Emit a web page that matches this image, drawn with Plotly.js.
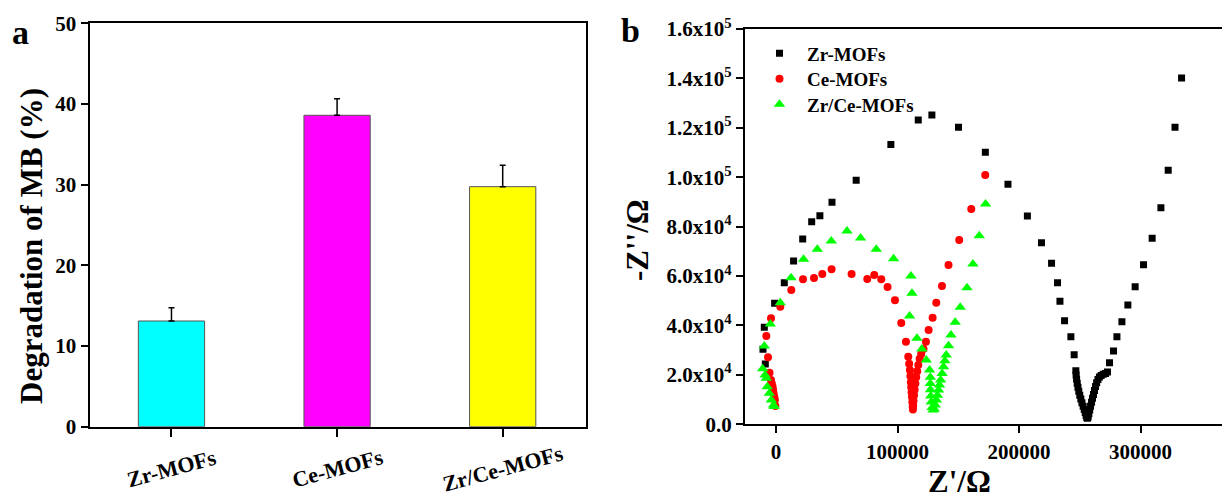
<!DOCTYPE html>
<html>
<head>
<meta charset="utf-8">
<script src="https://cdn.plot.ly/plotly-3.0.1.min.js"></script>
<style>
html,body{margin:0;padding:0;overflow:hidden;background:#fff;}
#chart{width:1270px;height:499px;}
</style>
</head>
<body>
<div id="chart"></div>
<script>
// ---- Panel a data ----
const categories = ["Zr-MOFs", "Ce-MOFs", "Zr/Ce-MOFs"];
const degradation = [13.1, 38.6, 29.75];
const degradationErr = [1.65, 2.05, 2.65];
const barColors = ["#00FFFF", "#FF00FF", "#FFFF00"];
const yTicksA = [0, 10, 20, 30, 40, 50];

// ---- Panel b data (Nyquist) ----
const zrX = [-10700,-8800,-9630,-1150,6830,14480,21970,29370,36120,46080,65990,94540,117080,128300,150200,172300,190900,206900,218500,226800,231700,233700,237500,242700,245400,246800,
  247000,247400,247900,248500,249200,250000,250900,251800,252800,253700,254500,255200,255800,256300,
  256900,257500,258200,258900,259700,260500,261300,262100,263000,263900,265000,266200,267600,269400,271200,272800,
  274500,277800,280600,284700,289600,295600,302500,309600,316800,322800,328400,333800];
const zrY = [30350,24400,39250,48970,57300,66090,75000,82000,84420,89840,98750,113300,123150,125170,120190,110080,97130,84300,73500,65160,57300,49780,41930,35450,28170,21690,
  20000,18300,16600,15000,13400,11800,10200,8700,7300,6000,4800,3700,2800,2400,
  3000,4300,5800,7300,8900,10500,12100,13700,15300,16800,18100,19100,19800,20300,20600,21200,
  24930,29660,35450,41520,48280,55690,64590,75270,87660,102790,120190,140150];

const ceX = [-4110,-7980,-6580,-5300,-4110,-3500,-2800,-2400,-1970,-1400,-900,-500,
  3540,12590,22220,31270,38100,45750,62200,75120,80880,86640,91830,97910,103100,106960,108860,
  109600,110200,110600,111000,111300,111600,111900,112200,112500,112700,112900,113200,113600,114100,114700,115400,116200,117100,118200,119500,
  121400,123400,125600,128900,131900,136600,142000,150800,160700,172200];
const ceY = [42900,35730,27110,20880,17930,16500,15220,13900,12540,11000,9830,7400,
  47600,54350,58680,59210,60830,62730,60830,58800,60420,58680,55570,50180,41000,33430,27360,
  24500,22000,19500,17000,15000,13000,11000,9000,7000,6000,7500,9500,11800,14000,16500,19000,21500,24000,26500,28500,
  30500,33430,38160,43140,49210,55970,64470,74590,87140,100890];

const zrceX = [3540,-4690,-9630,-11000,-9000,-7980,-7160,-5510,-3870,-1970,-1500,
  12340,22700,33980,45500,58420,69610,82530,96760,111080,111900,109930,116000,120100,123700,126400,
  127000,127000,127100,127400,127800,128500,129300,130200,131100,132000,132900,133800,134600,135500,136700,137900,139000,140100,
  142000,144000,147500,151600,157200,162100,167300,172500];
const zrceY = [49210,40590,31690,22500,20000,18620,15220,12540,9830,7810,7200,
  59330,66770,70820,74180,78230,75400,70820,67020,60020,53020,43830,34800,30470,26020,21970,
  19000,16500,14000,11500,9000,6800,5800,6200,7800,9800,11800,13880,15900,17930,20600,23310,25700,28050,
  31810,36140,41280,47350,55280,64870,76330,89160];

const xTicksB = [0, 100000, 200000, 300000];
const xTickTextB = ["0", "100000", "200000", "300000"];
const yTicksB = [0, 20000, 40000, 60000, 80000, 100000, 120000, 140000, 160000];
const yTickTextB = ["0.0", "2.0x10<sup>4</sup>", "4.0x10<sup>4</sup>", "6.0x10<sup>4</sup>", "8.0x10<sup>4</sup>",
  "1.0x10<sup>5</sup>", "1.2x10<sup>5</sup>", "1.4x10<sup>5</sup>", "1.6x10<sup>5</sup>"];

// ---- layout helpers ----
const W = 1270, H = 499;
const px = v => v / W;
const py = v => (H - v) / H;
const FONT = "Liberation Serif, Times New Roman, serif";
const bold = (size, color) => ({family: FONT, size: size, color: color || "#000", weight: "bold"});

const traces = [
  {
    type: "bar", x: categories, y: degradation, xaxis: "x", yaxis: "y",
    width: 0.4, showlegend: false,
    marker: {color: barColors, line: {color: "#555", width: 1}},
    error_y: {type: "data", symmetric: false, array: degradationErr, arrayminus: degradationErr.map(() => 0),
      color: "#000", thickness: 1.5, width: 3}
  },
  {type: "scatter", mode: "markers", name: "Zr-MOFs", x: zrX, y: zrY, xaxis: "x2", yaxis: "y2", legend: "legend",
    marker: {symbol: "square", size: 7, color: "#000"}},
  {type: "scatter", mode: "markers", name: "Ce-MOFs", x: ceX, y: ceY, xaxis: "x2", yaxis: "y2", legend: "legend2",
    marker: {symbol: "circle", size: 8, color: "#FF0000"}},
  {type: "scatter", mode: "markers", name: "Zr/Ce-MOFs", x: zrceX, y: zrceY, xaxis: "x2", yaxis: "y2", legend: "legend3",
    marker: {symbol: "triangle-up", size: 10, color: "#00FF00"}}
];

const axisCommon = {showline: true, mirror: true, linewidth: 2, linecolor: "#000", ticks: "outside",
  tickwidth: 2, tickcolor: "#000", showgrid: false, zeroline: false, tickfont: bold(21)};

const annotations = [
  {text: "a", x: px(20), y: py(33), xref: "paper", yref: "paper", showarrow: false, font: bold(34), xanchor: "center", yanchor: "middle"},
  {text: "b", x: px(630), y: py(31), xref: "paper", yref: "paper", showarrow: false, font: bold(34), xanchor: "center", yanchor: "middle"},
  {text: "Degradation of MB (%)", x: px(31), y: py(246), xref: "paper", yref: "paper", showarrow: false, textangle: -90,
    font: bold(31), xanchor: "center", yanchor: "middle"},
  {text: "-Z''/Ω", x: px(637), y: py(240), xref: "paper", yref: "paper", showarrow: false, textangle: -90,
    font: bold(31), xanchor: "center", yanchor: "middle"},
  {text: "Z'/Ω", x: px(959), y: py(481), xref: "paper", yref: "paper", showarrow: false,
    font: bold(31), xanchor: "center", yanchor: "middle"}
];
categories.forEach(c => annotations.push({
  text: c, x: c, xref: "x", y: py(468), yref: "paper", showarrow: false, textangle: -15,
  font: bold(22), xanchor: "center", yanchor: "middle"
}));

const legendBase = top => ({x: px(752), y: py(top), xanchor: "left", yanchor: "top", bgcolor: "rgba(0,0,0,0)",
  font: bold(19), itemwidth: 45});

const layout = {
  width: W, height: H, margin: {l: 0, r: 0, t: 0, b: 0},
  paper_bgcolor: "#fff", plot_bgcolor: "#fff",
  font: {family: FONT},
  bargap: 0,
  xaxis: Object.assign({}, axisCommon, {domain: [px(89.5), px(585.5)], anchor: "y", type: "category",
    range: [-0.495, 2.5], ticklen: 8, showticklabels: false}),
  yaxis: Object.assign({}, axisCommon, {domain: [py(426.7), py(23.3)], anchor: "x", range: [0, 50],
    tickvals: yTicksA, ticklen: 7}),
  xaxis2: Object.assign({}, axisCommon, {domain: [px(744.9), px(1262)], anchor: "y2", range: [-25600, 400000],
    tickvals: xTicksB, ticktext: xTickTextB, ticklen: 7}),
  yaxis2: Object.assign({}, axisCommon, {domain: [py(424.3), py(29)], anchor: "x2", range: [0, 160000],
    tickvals: yTicksB, ticktext: yTickTextB, ticklen: 7}),
  showlegend: true,
  legend: legendBase(34.5),
  legend2: legendBase(60),
  legend3: legendBase(85.5),
  annotations: annotations
};

Plotly.newPlot("chart", traces, layout, {staticPlot: true, displayModeBar: false});
</script>
</body>
</html>
